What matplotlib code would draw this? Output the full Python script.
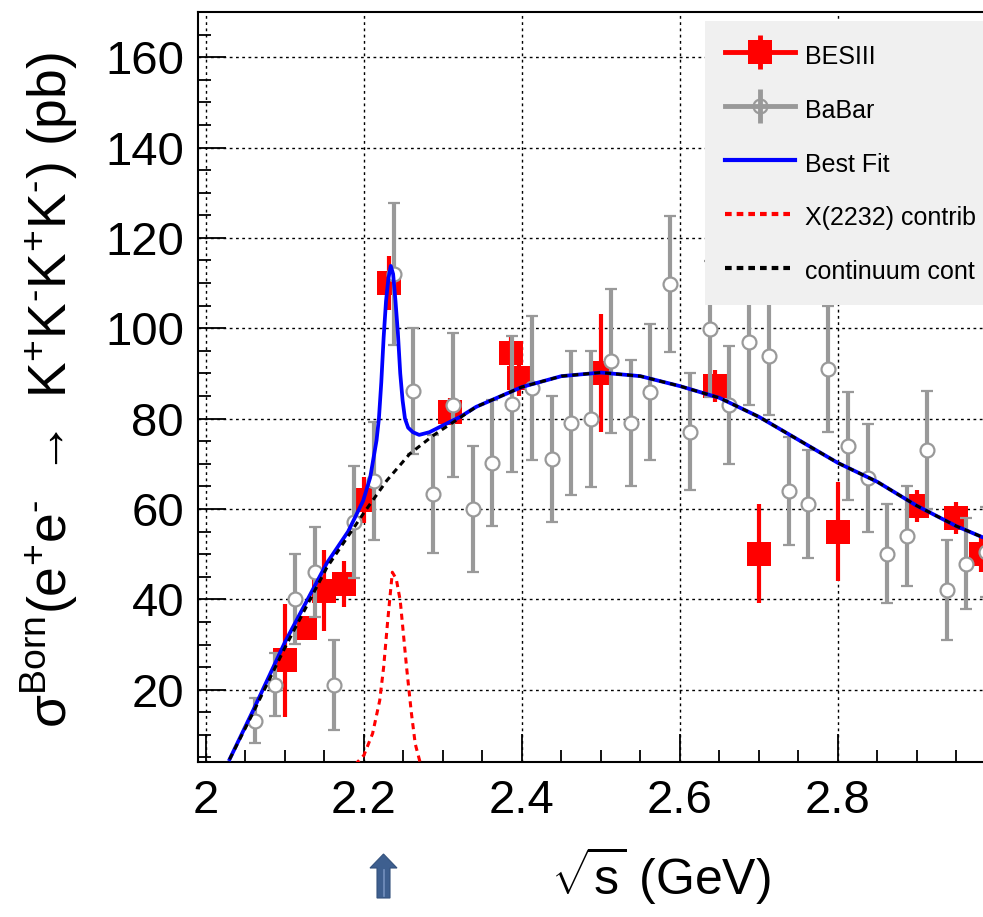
import matplotlib
matplotlib.use('Agg')
import matplotlib.pyplot as plt
from matplotlib.lines import Line2D
from matplotlib.legend_handler import HandlerTuple
from matplotlib.patches import Polygon
import matplotlib.transforms as mtransforms
from matplotlib.ticker import MultipleLocator, FixedLocator

plt.rcParams['font.family'] = ['Liberation Sans', 'DejaVu Sans']
plt.rcParams['mathtext.fontset'] = 'custom'
plt.rcParams['mathtext.rm'] = 'Liberation Sans'
plt.rcParams['mathtext.it'] = 'Liberation Sans'
plt.rcParams['mathtext.sf'] = 'Liberation Sans'
plt.rcParams['mathtext.default'] = 'regular'

# ---------------- data ----------------
bes_x = [2.100, 2.125, 2.150, 2.175, 2.200, 2.2324, 2.3094, 2.3864, 2.396,
         2.500, 2.6444, 2.700, 2.800, 2.900, 2.950, 2.981]
bes_y = [26.5, 33.7, 41.9, 43.4, 62.0, 110.0, 81.5, 94.5, 89.0,
         90.1, 87.2, 50.1, 55.0, 60.7, 58.0, 50.1]
bes_err = [12.5, 2.5, 9.0, 5.0, 5.0, 6.0, 3.0, 4.0, 4.0,
           13.0, 3.5, 11.0, 11.0, 3.5, 3.5, 4.0]

babar_x = [2.0625, 2.0875, 2.1125, 2.1375, 2.1625, 2.1875, 2.2125, 2.2375,
           2.2625, 2.2875, 2.3125, 2.3375, 2.3625, 2.3875, 2.4125, 2.4375,
           2.4625, 2.4875, 2.5125, 2.5375, 2.5625, 2.5875, 2.6125, 2.6375,
           2.6625, 2.6875, 2.7125, 2.7375, 2.7625, 2.7875, 2.8125, 2.8375,
           2.8625, 2.8875, 2.9125, 2.9375, 2.9625, 2.9875]
babar_y = [13.1, 21.1, 40.1, 46.1, 21.1, 57.2, 66.2, 112.0,
           86.1, 63.3, 83.0, 60.0, 70.2, 83.2, 86.8, 71.1,
           79.0, 79.9, 92.8, 79.0, 85.9, 109.8, 77.1, 99.8,
           83.0, 97.0, 93.9, 64.0, 61.1, 91.0, 74.0, 66.9,
           50.1, 54.0, 73.1, 42.1, 47.9, 50.5]
babar_err = [5, 7, 10, 10, 10, 12.4, 13, 15.7,
             14, 13, 16, 14, 14, 15, 16, 14,
             16, 15, 16, 14, 15, 15, 13, 15,
             13, 14, 13, 12, 12, 14, 12, 12,
             11, 11, 13, 11, 10, 10]

fit_x = [2.030, 2.060, 2.100, 2.153, 2.180, 2.199, 2.208, 2.216, 2.219, 2.222,
         2.225, 2.228, 2.231, 2.234, 2.237, 2.240, 2.243, 2.246, 2.249, 2.252,
         2.256, 2.262, 2.270, 2.283, 2.300, 2.322, 2.342, 2.400, 2.450, 2.500,
         2.550, 2.600, 2.650, 2.700, 2.750, 2.800, 2.850, 2.900, 2.950, 3.000]
fit_y = [4.6, 15.5, 30.5, 48.0, 55.0, 61.8, 67.0, 75.2, 80.0, 88.0,
         98.0, 106.0, 111.0, 113.8, 112.0, 106.0, 99.0, 90.0, 84.0, 80.0,
         78.0, 77.0, 76.4, 77.0, 78.5, 80.4, 82.6, 87.0, 89.4, 90.2,
         89.4, 87.2, 84.6, 80.4, 75.3, 70.2, 66.0, 60.7, 56.2, 52.5]

cont_x = [2.030, 2.060, 2.100, 2.153, 2.199, 2.229, 2.258, 2.288, 2.313, 2.342,
          2.400, 2.450, 2.500, 2.550, 2.600, 2.650, 2.700, 2.750, 2.800, 2.850,
          2.900, 2.950, 3.000]
cont_y = [4.6, 15.0, 29.3, 47.0, 58.9, 66.3, 72.2, 76.3, 79.2, 82.6,
          87.0, 89.4, 90.2, 89.4, 87.2, 84.6, 80.4, 75.3, 70.2, 66.0,
          60.7, 56.2, 52.5]

res_x = [2.180, 2.192, 2.200, 2.211, 2.220, 2.225, 2.230, 2.236, 2.241, 2.246,
         2.254, 2.260, 2.265, 2.271, 2.285]
res_y = [1.5, 4.0, 5.5, 10.3, 17.6, 25.0, 35.0, 46.0, 44.5, 39.7,
         25.0, 15.0, 8.0, 4.0, 1.5]

x_ticks = [2.0, 2.2, 2.4, 2.6, 2.8, 3.0]
x_tick_labels = ['2', '2.2', '2.4', '2.6', '2.8', '']
y_ticks = [20, 40, 60, 80, 100, 120, 140, 160]

legend_labels = ['BESIII', 'BaBar', 'Best Fit', 'X(2232) contrib',
                 'continuum cont']

# ---------------- figure ----------------
W, H, DPI = 983, 917, 100
fig = plt.figure(figsize=(W / DPI, H / DPI), dpi=DPI)
XMIN, XMAX = 1.99, 3.0
YMIN, YMAX = 4, 170
px_per_gev = 790
ax_left = 198 / W
ax_bottom = (H - 762) / H
ax_top = (H - 12) / H
ax_width = (XMAX - XMIN) * px_per_gev / W
ax = fig.add_axes([ax_left, ax_bottom, ax_width, ax_top - ax_bottom])
ax.set_xlim(XMIN, XMAX)
ax.set_ylim(YMIN, YMAX)

gray = '#999999'
eb_bes = ax.errorbar(bes_x, bes_y, yerr=bes_err, fmt='s', color='red',
                     markersize=17.5, elinewidth=3, capsize=4, capthick=3,
                     markeredgewidth=0, zorder=3)
eb_bab = ax.errorbar(babar_x, babar_y, yerr=babar_err, fmt='o', color=gray,
                     markerfacecolor='white', markeredgecolor=gray,
                     markeredgewidth=1.6, markersize=10, elinewidth=3,
                     capsize=4, capthick=3, zorder=4)
l_fit, = ax.plot(fit_x, fit_y, color='#0000ff', lw=2.7, zorder=5)
l_res, = ax.plot(res_x, res_y, color='#ff0000', lw=2.2, dashes=(2.0, 1.6), zorder=6)
l_cont, = ax.plot(cont_x, cont_y, color='black', lw=2.2, dashes=(2.0, 1.6), zorder=7)

# axes styling
ax.xaxis.set_major_locator(FixedLocator(x_ticks))
ax.set_xticklabels(x_tick_labels)
ax.xaxis.set_minor_locator(MultipleLocator(0.05))
ax.yaxis.set_major_locator(FixedLocator(y_ticks))
ax.yaxis.set_minor_locator(MultipleLocator(5))
ax.tick_params(which='major', direction='in', length=20, width=1.3,
               labelsize=34, pad=10, top=False, right=False)
ax.tick_params(which='minor', direction='in', length=9, width=1.3,
               top=False, right=False)
ax.tick_params(axis='x', which='major', pad=12)
for s in ax.spines.values():
    s.set_linewidth(1.5)
ax.grid(True, which='major', color='black', linestyle=(0, (2.0, 2.5)),
        linewidth=1.0)
ax.set_axisbelow(True)

# legend (ROOT-like "lep" entries)
h_bes = (Line2D([], [], color='red', lw=3.5, marker='|', markersize=25,
                markeredgewidth=3.5),
         Line2D([], [], ls='none', marker='s', color='red', markersize=17,
                markeredgewidth=0))
h_bab = (Line2D([], [], color=gray, lw=3.5, marker='|', markersize=25,
                markeredgewidth=3.5),
         Line2D([], [], ls='none', marker='o', markerfacecolor='none',
                markeredgecolor=gray, markersize=10, markeredgewidth=1.6))
h_fit = Line2D([], [], color='#0000ff', lw=3)
h_res = Line2D([], [], color='#ff0000', lw=3, dashes=(1.6, 1.2))
h_cont = Line2D([], [], color='black', lw=3, dashes=(1.6, 1.2))
handles = [h_bes, h_bab, h_fit, h_res, h_cont]
leg = ax.legend(handles, legend_labels, loc='upper left',
                bbox_to_anchor=(0.636, 0.988), fontsize=18, numpoints=1,
                handler_map={tuple: HandlerTuple(ndivide=1)},
                handlelength=2.8, handleheight=1.4, handletextpad=0.4,
                labelspacing=1.0, borderpad=0.8, borderaxespad=0,
                frameon=True, fancybox=False)
leg.get_frame().set_facecolor('#f0f0f0')
leg.get_frame().set_edgecolor('none')
leg.get_frame().set_alpha(1)
leg.set_zorder(10)

# axis titles
fig.text(50 / W, (H - 390) / H,
         r'$\sigma^{Born}(e^{+}e^{\text{-}}\ \rightarrow\ K^{+}K^{\text{-}}K^{+}K^{\text{-}})$ (pb)',
         rotation=90, ha='center', va='center', fontsize=38.5)
fig.text(661 / W, (H - 875) / H, r'$\sqrt{s}$ (GeV)', ha='center',
         va='center', fontsize=36)

# marker arrow below the axis
ident = mtransforms.IdentityTransform()
arrow_img = [(383.5, 854), (397, 868), (390, 868), (390, 898),
             (377, 898), (377, 868), (370, 868)]
arrow_disp = [(x, H - y) for x, y in arrow_img]
fig.add_artist(Polygon(arrow_disp, closed=True, facecolor='#3e5f8f',
                       edgecolor='#34527d', lw=0.8, transform=ident))
fig.add_artist(Line2D([383.5, 383.5], [H - 870, H - 896], color='#7390bd',
                      lw=1.2, transform=ident))

fig.savefig('out.png', dpi=DPI)
